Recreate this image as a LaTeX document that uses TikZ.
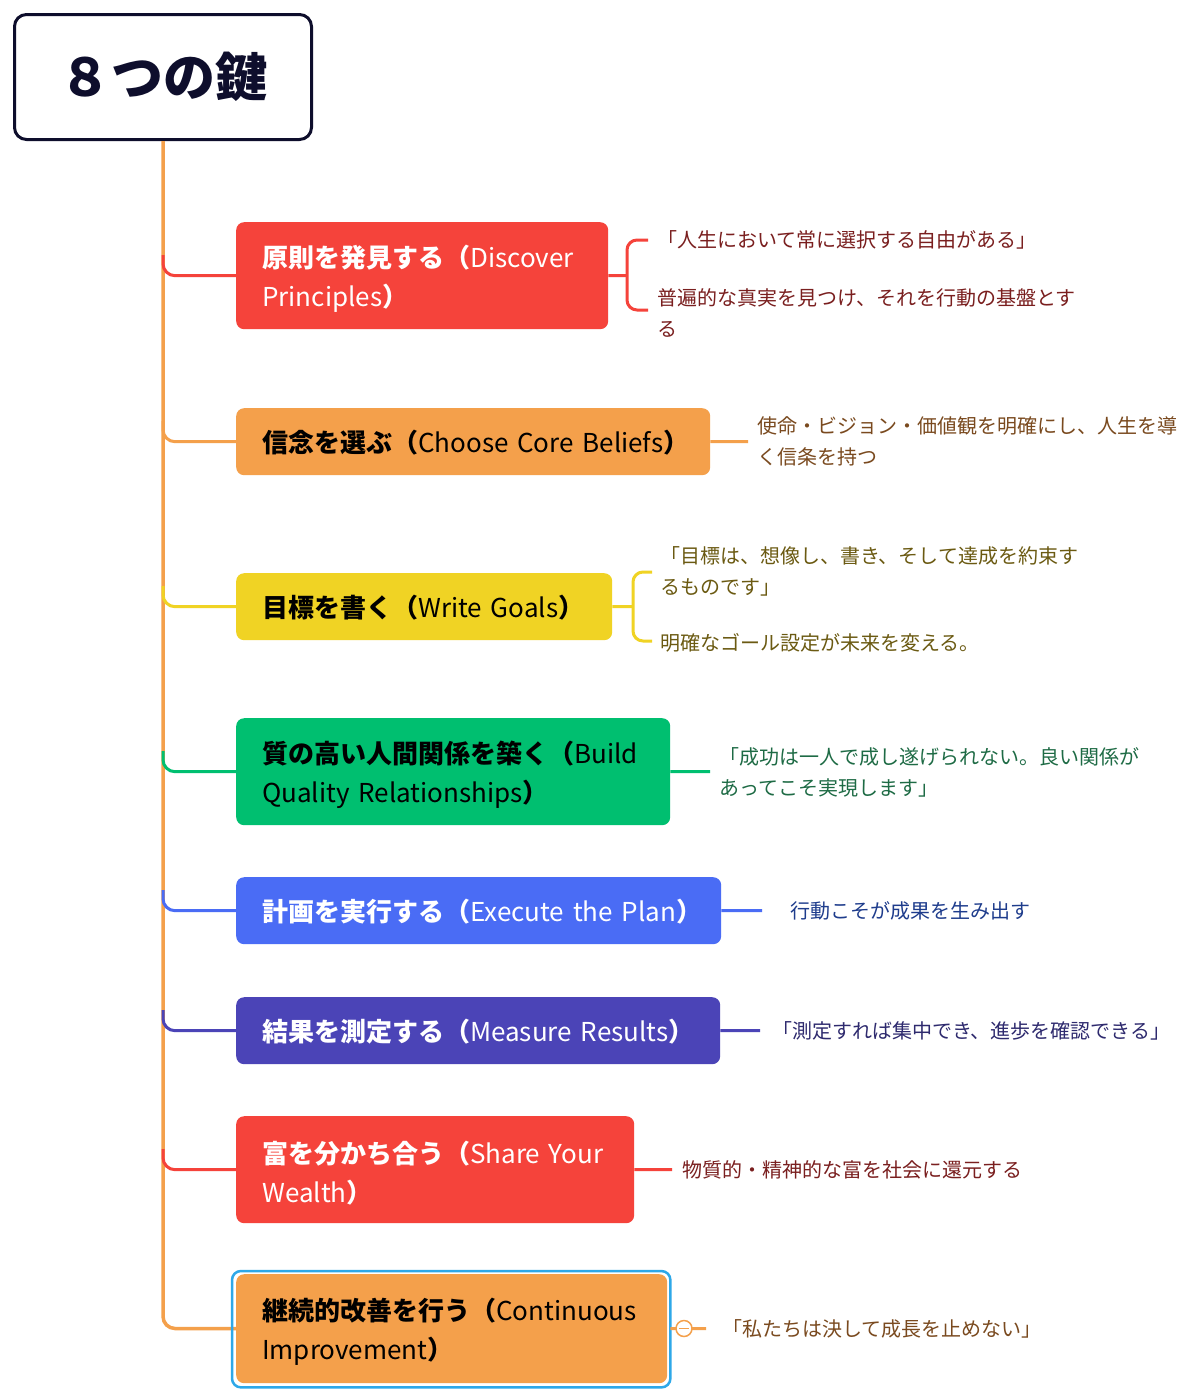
\documentclass[tikz,border=0pt]{standalone}
\usepackage{fontspec}
\setmainfont{Noto Sans CJK JP}
\usetikzlibrary{calc}
\definecolor{cRed}{HTML}{F5433B}
\definecolor{cOrange}{HTML}{F4A04B}
\definecolor{cYellow}{HTML}{F0D324}
\definecolor{cGreen}{HTML}{00BF70}
\definecolor{cBlue}{HTML}{4A6CF5}
\definecolor{cIndigo}{HTML}{4B44B7}
\definecolor{cCyan}{HTML}{2EA8E8}
\definecolor{cNavy}{HTML}{0E0E2C}
\definecolor{tRed}{HTML}{7A1F1F}
\definecolor{tOrange}{HTML}{7A4A1F}
\definecolor{tYellow}{HTML}{6B5A12}
\definecolor{tGreen}{HTML}{1E6B45}
\definecolor{tBlue}{HTML}{1E3C8C}
\definecolor{tIndigo}{HTML}{2E2A6E}
\newcommand\lat[1]{{\mdseries #1}}
\newcommand\bl[1]{\mbox{\raisebox{-3.5pt}[\height][\depth]{#1}}}
\newcommand\oneline[1]{\mbox{\raisebox{-0.5pt}[\height][\depth]{#1}}}
\tikzset{
  box/.style={rounded corners=8pt, inner xsep=26pt, inner ysep=0pt, anchor=north west, align=left,
    font=\fontsize{26}{39}\selectfont\bfseries},
  anno/.style={anchor=west, align=left, inner sep=0pt, font=\fontsize{20}{31}\selectfont},
  br/.style={line width=3pt, rounded corners=12pt},
}
\begin{document}
\begin{tikzpicture}[x=1pt,y=-1pt]
\fill[white] (0,0) rectangle (1200,1400);
\useasboundingbox (0,0) rectangle (1200,1400);

% root
\node[draw=cNavy, line width=3pt, rounded corners=12pt, minimum width=297pt, minimum height=125pt,
  font=\fontsize{52}{60}\selectfont\bfseries, text=cNavy] (root) at (163,77) {８つの鍵};

% trunk coordinates
\coordinate (t1) at (163,255);
\coordinate (t2) at (163,421);
\coordinate (t3) at (163,586);
\coordinate (t4) at (163,751);
\coordinate (t5) at (163,890);
\coordinate (t6) at (163,1010);
\coordinate (t7) at (163,1149);

% boxes
\node[box, fill=cRed, text=white, text width=320pt, minimum height=107pt] (b1) at (236,222)
  {\bl{原則を発見する（\lat{Discover}}\\\bl{\lat{Principles}）}};
\node[box, fill=cOrange, text=black, text width=422pt, minimum height=67pt] (b2) at (236,408)
  {\oneline{信念を選ぶ（\lat{Choose Core Beliefs}）}};
\node[box, fill=cYellow, text=black, text width=324pt, minimum height=67pt] (b3) at (236,573)
  {\oneline{目標を書く（\lat{Write Goals}）}};
\node[box, fill=cGreen, text=black, text width=382pt, minimum height=107pt] (b4) at (236,718)
  {\bl{質の高い人間関係を築く（\lat{Build}}\\\bl{\lat{Quality Relationships}）}};
\node[box, fill=cBlue, text=white, text width=433pt, minimum height=67pt] (b5) at (236,877)
  {\oneline{計画を実行する（\lat{Execute the Plan}）}};
\node[box, fill=cIndigo, text=white, text width=432pt, minimum height=67pt] (b6) at (236,997)
  {\oneline{結果を測定する（\lat{Measure Results}）}};
\node[box, fill=cRed, text=white, text width=346pt, minimum height=107pt] (b7) at (236,1116)
  {\bl{富を分かち合う（\lat{Share Your}}\\\bl{\lat{Wealth}）}};

% trunk and branches (drawn under box 8)
\draw[br, cOrange, line width=3.5pt] (root.south) |- (236,1328.5) coordinate (t8);
\draw[br, cRed] (t1) |- (b1.west);
\draw[br, cOrange] (t2) |- (b2.west);
\draw[br, cYellow] (t3) |- (b3.west);
\draw[br, cGreen] (t4) |- (b4.west);
\draw[br, cBlue] (t5) |- (b5.west);
\draw[br, cIndigo] (t6) |- (b6.west);
\draw[br, cRed] (t7) |- (b7.west);

\node[box, fill=cOrange, text=black, text width=379pt, minimum height=109pt] (b8) at (236,1274)
  {\bl{継続的改善を行う（\lat{Continuous}}\\\bl{\lat{Improvement}）}};
\draw[cCyan, line width=2.5pt, rounded corners=9pt]
  ($(b8.north west)+(-4,-3)$) rectangle ($(b8.south east)+(3,4)$);

% annotations
\node[anno, text=tRed] (a1a) at (657,240) {「人生において常に選択する自由がある」};
\node[anno, text=tRed] (a1b) at (657,312.5) {普遍的な真実を見つけ、それを行動の基盤とす\\る};
\node[anno, text=tOrange] (a2) at (757,441.5) {使命・ビジョン・価値観を明確にし、人生を導\\く信条を持つ};
\node[anno, text=tYellow] (a3a) at (660,571.5) {「目標は、想像し、書き、そして達成を約束す\\るものです」};
\node[anno, text=tYellow] (a3b) at (660,643) {明確なゴール設定が未来を変える。};
\node[anno, text=tGreen] (a4) at (719,772.5) {「成功は一人で成し遂げられない。良い関係が\\あってこそ実現します」};
\node[anno, text=tBlue] (a5) at (790,911) {行動こそが成果を生み出す};
\node[anno, text=tIndigo] (a6) at (772,1031) {「測定すれば集中でき、進歩を確認できる」};
\node[anno, text=tRed] (a7) at (682,1170) {物質的・精神的な富を社会に還元する};
\node[anno, text=tOrange] (a8) at (722,1329) {「私たちは決して成長を止めない」};

% connectors
\coordinate (k1) at (627,275.5);
\coordinate (k1t) at (648,240);
\coordinate (k1b) at (648,310);
\draw[br, cRed] (b1.east) -- (k1);
\draw[br, cRed, rounded corners=10pt] (k1t) -| (k1) |- (k1b);

\coordinate (e2) at (748,441.5);
\draw[br, cOrange] (b2.east) -- (e2);

\coordinate (k3) at (633,606.5);
\coordinate (k3t) at (652,572);
\coordinate (k3b) at (652,641);
\draw[br, cYellow] (b3.east) -- (k3);
\draw[br, cYellow, rounded corners=10pt] (k3t) -| (k3) |- (k3b);

\coordinate (e4) at (710,771.5);
\draw[br, cGreen] (b4.east) -- (e4);
\coordinate (e5) at (762,910.5);
\draw[br, cBlue] (b5.east) -- (e5);
\coordinate (e6) at (760,1030.5);
\draw[br, cIndigo] (b6.east) -- (e6);
\coordinate (e7) at (672,1169.5);
\draw[br, cRed] (b7.east) -- (e7);

\coordinate (e8) at (706,1328.5);
\draw[br, cOrange] ($(b8.east)+(3,0)$) -- (e8);
\node[circle, draw=cOrange, fill=white, line width=1.5pt, minimum size=16pt, inner sep=0pt] (col) at (684,1328.5) {};
\draw[cOrange, line width=1.5pt] ($(col.center)+(-5,0)$) -- ($(col.center)+(5,0)$);
\end{tikzpicture}
\end{document}
